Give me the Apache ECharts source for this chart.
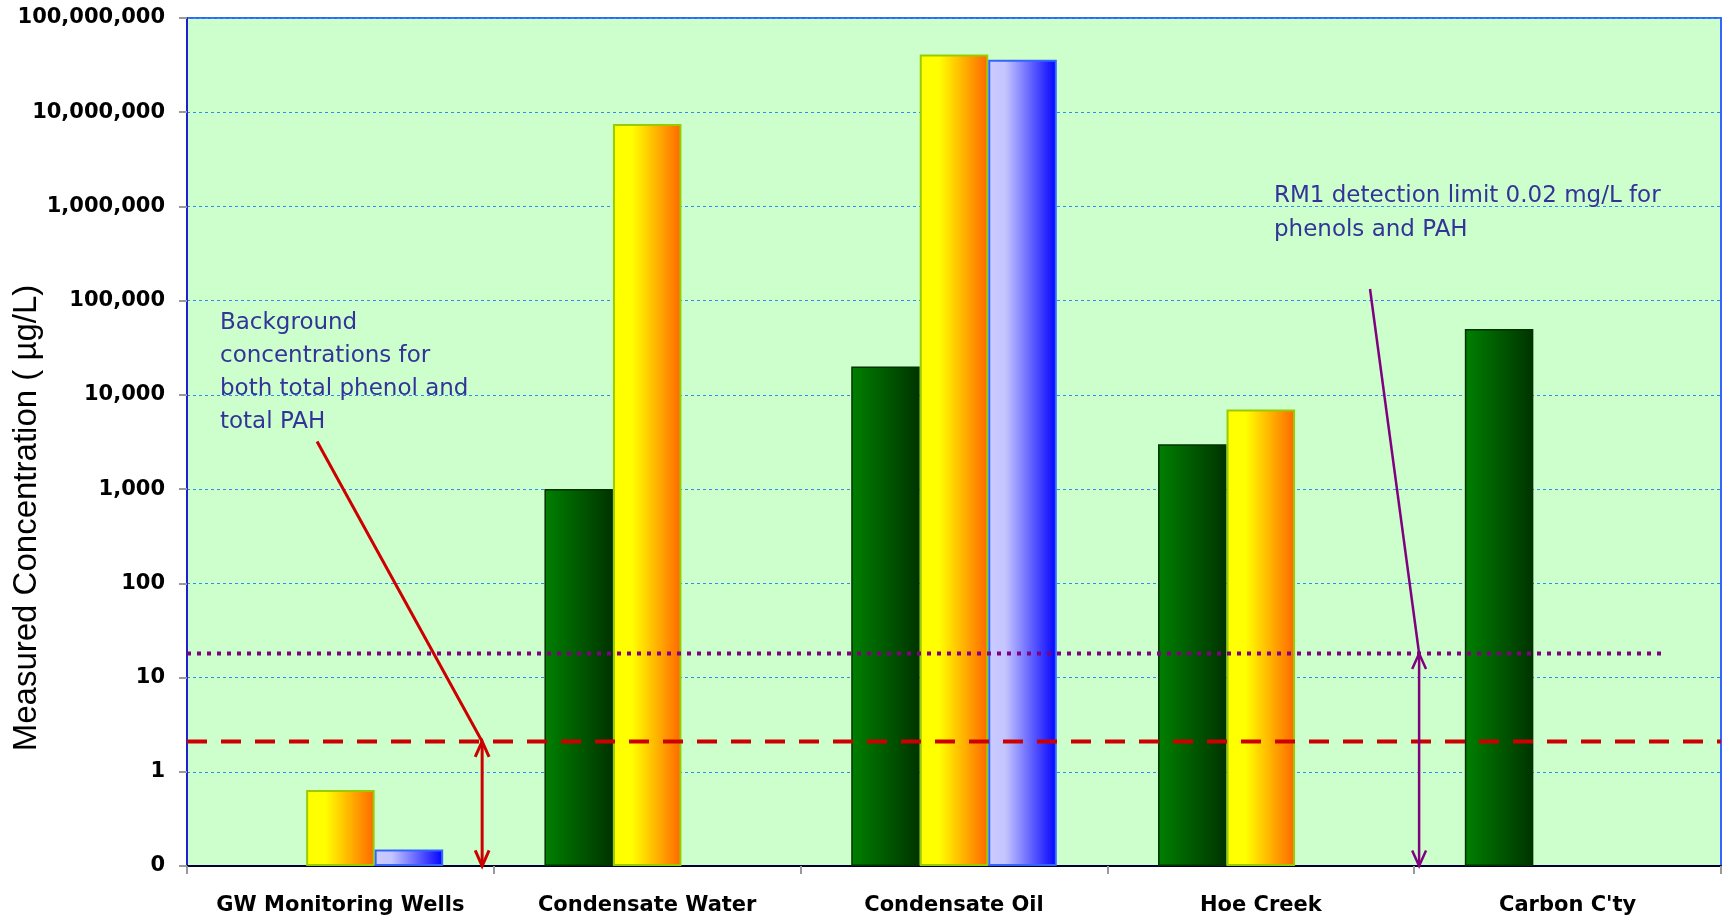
<!DOCTYPE html>
<html><head><meta charset="utf-8">
<script src="https://cdn.jsdelivr.net/npm/echarts@6/dist/echarts.min.js"></script>
<style>html,body{margin:0;padding:0;background:#fff}#c{width:1725px;height:920px}</style>
</head><body><div id="c"></div>
<script>
// ---- data ----
const categories = ['GW Monitoring Wells', 'Condensate Water', 'Condensate Oil', 'Hoe Creek', "Carbon C'ty"];
const seriesGreen  = [null, 1000, 20000, 3000, 50000];
const seriesYellow = [0.64, 7500000, 41000000, 7000, null];
const seriesBlue   = [0.15, null, 36000000, null, null];
const yMin = 0.1;
const yMax = 100000000;
const backgroundLevel = 2.1;   // µg/L
const detectionLevel = 18;     // µg/L
// reference lines in (category-units, value)
const redLineData = [[0, backgroundLevel], [5, backgroundLevel]];
const purpleLineData = [[0, detectionLevel], [4.82, detectionLevel]];
// arrows: [x1, y1, x2, y2, headAtStart, headAtEnd] in (category-units, value)
const redArrows = [[0.424, 3200, 0.962, backgroundLevel, 0, 0], [0.962, backgroundLevel, 0.962, yMin, 1, 1]];
const purpleArrows = [[3.856, 133000, 4.016, detectionLevel, 0, 0], [4.016, detectionLevel, 4.016, yMin, 1, 1]];
const noteBackground = 'Background\nconcentrations for\nboth total phenol and\ntotal PAH';
const noteDetection = 'RM1 detection limit 0.02 mg/L for\nphenols and PAH';
const yAxisTitle = 'Measured Concentration ( µg/L)';

// ---- chart ----
const chart = echarts.init(document.getElementById('c'));
function grad(stops) {
  return { type: 'linear', x: 0, y: 0, x2: 1, y2: 0, colorStops: stops.map(s => ({ offset: s[0], color: s[1] })) };
}
function arrowRender(color, width) {
  return function (params, api) {
    const a = api.coord([api.value(0), api.value(1)]);
    const b = api.coord([api.value(2), api.value(3)]);
    const children = [{ type: 'line', shape: { x1: a[0], y1: a[1], x2: b[0], y2: b[1] }, style: { stroke: color, lineWidth: width } }];
    const head = (tip, from) => {
      const dx = tip[0] - from[0], dy = tip[1] - from[1];
      const len = Math.hypot(dx, dy) || 1;
      const ux = dx / len, uy = dy / len;
      const L = 17, ang = 0.42;
      const p = s => {
        const c = Math.cos(s * ang), sn = Math.sin(s * ang);
        const rx = ux * c - uy * sn, ry = ux * sn + uy * c;
        return [tip[0] - L * rx, tip[1] - L * ry];
      };
      return { type: 'polyline', shape: { points: [p(1), tip, p(-1)] }, style: { stroke: color, lineWidth: width, fill: null } };
    };
    if (api.value(4)) children.push(head(a, b));
    if (api.value(5)) children.push(head(b, a));
    return { type: 'group', children };
  };
}
const labelFont = { fontFamily: 'DejaVu Sans', fontWeight: 'bold', fontSize: 21, color: '#000' };
const option = {
  backgroundColor: '#ffffff',
  animation: false,
  grid: { left: 187, right: 4, top: 18, bottom: 54, containLabel: false, show: true,
          backgroundColor: '#ccffcc', borderColor: '#3366ff', borderWidth: 2 },
  xAxis: [{
    type: 'category', data: categories,
    axisLine: { lineStyle: { color: '#000033', width: 2 } },
    axisTick: { show: true, length: 8, lineStyle: { color: '#999999', width: 2 } },
    axisLabel: Object.assign({ margin: 29, interval: 0 }, labelFont),
    splitLine: { show: false }
  }, {
    type: 'value', min: 0, max: 5, show: false, gridIndex: 0
  }],
  yAxis: {
    type: 'log', logBase: 10, min: yMin, max: yMax, splitNumber: 9, startValue: yMin,
    axisLine: { show: true, lineStyle: { color: '#1f1fd0', width: 2 } },
    axisTick: { show: true, length: 8, lineStyle: { color: '#999999', width: 2 } },
    axisLabel: Object.assign({ margin: 22, formatter: v => v < 1 ? '0' : Math.round(v).toLocaleString('en-US') }, labelFont),
    splitLine: { show: true, lineStyle: { color: '#2f8cf0', width: 1, type: [3, 3] } }
  },
  series: [
    { name: 'green', type: 'bar', data: seriesGreen, barGap: '0%', barCategoryGap: '33%',
      itemStyle: { color: grad([[0, '#008000'], [1, '#003300']]), borderColor: '#003300', borderWidth: 1.5 } },
    { name: 'yellow', type: 'bar', data: seriesYellow, barGap: '0%', barCategoryGap: '33%',
      itemStyle: { color: grad([[0, '#ffff00'], [0.28, '#ffff00'], [1, '#ff6600']]), borderColor: '#99cc00', borderWidth: 2 } },
    { name: 'blue', type: 'bar', data: seriesBlue, barGap: '0%', barCategoryGap: '33%',
      itemStyle: { color: grad([[0, '#ccccff'], [0.25, '#c4c4ff'], [1, '#0000ff']]), borderColor: '#3366ff', borderWidth: 2 } },
    { name: 'bg', type: 'line', xAxisIndex: 1, data: redLineData, symbol: 'none', silent: true, z: 5,
      lineStyle: { color: '#cc0000', width: 4, type: [20, 14] } },
    { name: 'det', type: 'line', xAxisIndex: 1, data: purpleLineData, symbol: 'none', silent: true, z: 5,
      lineStyle: { color: '#800080', width: 4, type: [4, 6] } },
    { name: 'redArrows', type: 'custom', xAxisIndex: 1, data: redArrows, z: 6, silent: true,
      encode: { x: 0, y: 1 }, renderItem: arrowRender('#cc0000', 3) },
    { name: 'purpleArrows', type: 'custom', xAxisIndex: 1, data: purpleArrows, z: 6, silent: true,
      encode: { x: 0, y: 1 }, renderItem: arrowRender('#800080', 2.5) }
  ],
  graphic: [
    { type: 'text', left: 220, top: 307, z: 10, style: { text: noteBackground, fill: '#333399',
      font: '23px "DejaVu Sans"', lineHeight: 33 } },
    { type: 'text', left: 1274, top: 179, z: 10, style: { text: noteDetection, fill: '#333399',
      font: '23px "DejaVu Sans"', lineHeight: 34 } },
    { type: 'text', x: 27, y: 518, rotation: Math.PI / 2, z: 10, style: { text: yAxisTitle, fill: '#000',
      font: '33px "Liberation Sans"', align: 'center', verticalAlign: 'middle' } }
  ]
};
chart.setOption(option);
</script>
</body></html>
